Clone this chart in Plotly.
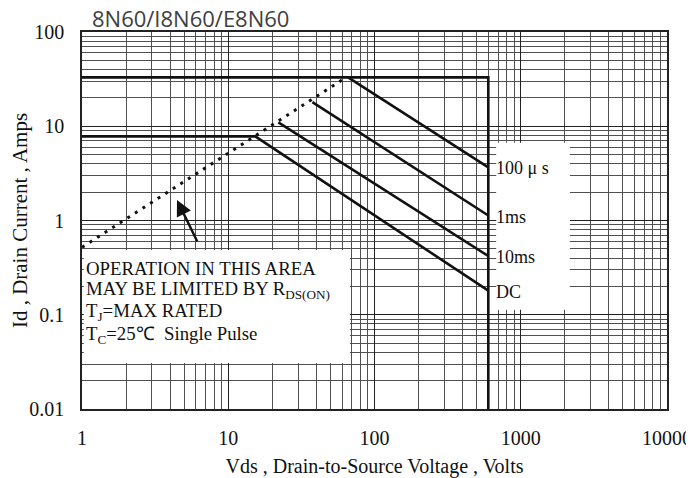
import numpy as np
import plotly.graph_objects as go

# ---- data ----
boundary_v = [1, 600, 600]
boundary_i = [33, 33, 0.01]

dc_v = [1, 15.3, 600]
dc_i = [7.8, 7.8, 0.18]

ms10_v = [22, 600]
ms10_i = [11.0, 0.42]

ms1_v = [37.6, 600]
ms1_i = [18.0, 1.13]

us100_v = [66, 600]
us100_i = [33.0, 3.66]

rds_v = [1, 64]
rds_i = [0.52, 33.0]

curve_labels = ["100 μ s", "1ms", "10ms", "DC"]
label_v = [us100_v[-1], ms1_v[-1], ms10_v[-1], dc_v[-1]]
label_i = [us100_i[-1], ms1_i[-1], ms10_i[-1], dc_i[-1]]

x_ticks = [1, 10, 100, 1000, 10000]
x_ticktext = ["1", "10", "100", "1000", "10000"]
y_ticks = [0.01, 0.1, 1, 10, 100]
y_ticktext = ["0.01", "0.1", "1", "10", "100"]

note_lines = [
    "OPERATION IN THIS AREA",
    "MAY BE LIMITED BY R<sub>DS(ON)</sub>",
    "T<sub>J</sub>=MAX RATED",
    "T<sub>C</sub>=25℃  Single Pulse",
]

title_text = "8N60/I8N60/E8N60"
x_title = "Vds , Drain-to-Source Voltage , Volts"
y_title = "Id , Drain Current , Amps"

# ---- figure ----
SERIF = "Liberation Serif, Times New Roman, serif"
LINE = dict(color="#111111", width=2.6)

fig = go.Figure()
for xs, ys in [(boundary_v, boundary_i), (dc_v, dc_i), (ms10_v, ms10_i),
               (ms1_v, ms1_i), (us100_v, us100_i)]:
    fig.add_trace(go.Scatter(x=xs, y=ys, mode="lines", line=LINE,
                             hoverinfo="skip", showlegend=False))
fig.add_trace(go.Scatter(x=rds_v, y=rds_i, mode="lines",
                         line=dict(color="#111111", width=3, dash="3px,6px"),
                         hoverinfo="skip", showlegend=False))

# white background boxes (label column and note box); they sit where no
# curve passes, so they are drawn over the grid
fig.add_shape(type="rect", xref="paper", yref="paper",
              x0=0.708, x1=0.834, y0=0.263, y1=0.706,
              fillcolor="white", line=dict(width=0), layer="above")
fig.add_shape(type="rect", xref="paper", yref="paper",
              x0=0.003, x1=0.458, y0=0.122, y1=0.422,
              fillcolor="white", line=dict(width=0), layer="above")

# curve labels
for txt, v, i in zip(curve_labels, label_v, label_i):
    fig.add_annotation(x=np.log10(v), y=np.log10(i), xref="x", yref="y",
                       text=txt, showarrow=False, xanchor="left",
                       yanchor="middle", xshift=6, yshift=-1,
                       font=dict(family=SERIF, size=18, color="#111111"))

# note lines
note_y = [0.374, 0.316, 0.256, 0.196]
for txt, yy in zip(note_lines, note_y):
    fig.add_annotation(x=0.004, y=yy, xref="paper", yref="paper", text=txt,
                       showarrow=False, xanchor="left", yanchor="middle",
                       font=dict(family=SERIF, size=18.8, color="#111111"))

# arrow
fig.add_annotation(x=0.1624, y=0.5544, xref="paper", yref="paper", text="",
                   showarrow=True, ax=21, ay=43, axref="pixel", ayref="pixel",
                   arrowhead=2, arrowsize=1.3, arrowwidth=2.4,
                   arrowcolor="#111111")

# title above the plot area
fig.add_annotation(x=0.0137, y=1.037, xref="paper", yref="paper",
                   yanchor="middle", xanchor="left", showarrow=False,
                   text=title_text,
                   font=dict(family="Open Sans, sans-serif", size=22,
                             color="#404040"))

grid_major = "#222222"
grid_minor = "#505050"

fig.update_xaxes(type="log", range=[0, 4], tickvals=x_ticks,
                 ticktext=x_ticktext, ticks="", showgrid=True,
                 gridcolor=grid_major, gridwidth=1,
                 minor=dict(dtick="D1", showgrid=True, gridcolor=grid_minor,
                            gridwidth=0.9, ticks=""),
                 showline=True, linecolor="#222222", linewidth=1.6,
                 mirror=True, zeroline=False,
                 tickfont=dict(family=SERIF, size=20, color="#111111"),
                 ticklabelstandoff=10,
                 title=dict(text=x_title, standoff=14,
                            font=dict(family=SERIF, size=20, color="#111111")))
fig.update_yaxes(type="log", range=[-2, 2], tickvals=y_ticks,
                 ticktext=y_ticktext, ticks="", showgrid=True,
                 gridcolor=grid_major, gridwidth=1,
                 minor=dict(dtick="D1", showgrid=True, gridcolor=grid_minor,
                            gridwidth=0.9, ticks=""),
                 showline=True, linecolor="#222222", linewidth=1.6,
                 mirror=True, zeroline=False,
                 tickfont=dict(family=SERIF, size=20, color="#111111"),
                 ticklabelstandoff=12,
                 title=dict(text=y_title, standoff=0,
                            font=dict(family=SERIF, size=21, color="#111111")))

# the page body adds an 8px offset, so the figure is 686x470 with
# margins chosen to put the plot area at x 82-667, y 32-409 in the window
fig.update_layout(width=686, height=470,
                  margin=dict(l=74, r=27, t=24, b=69, autoexpand=False),
                  paper_bgcolor="white", plot_bgcolor="white",
                  showlegend=False)

fig.write_html("out.html")
